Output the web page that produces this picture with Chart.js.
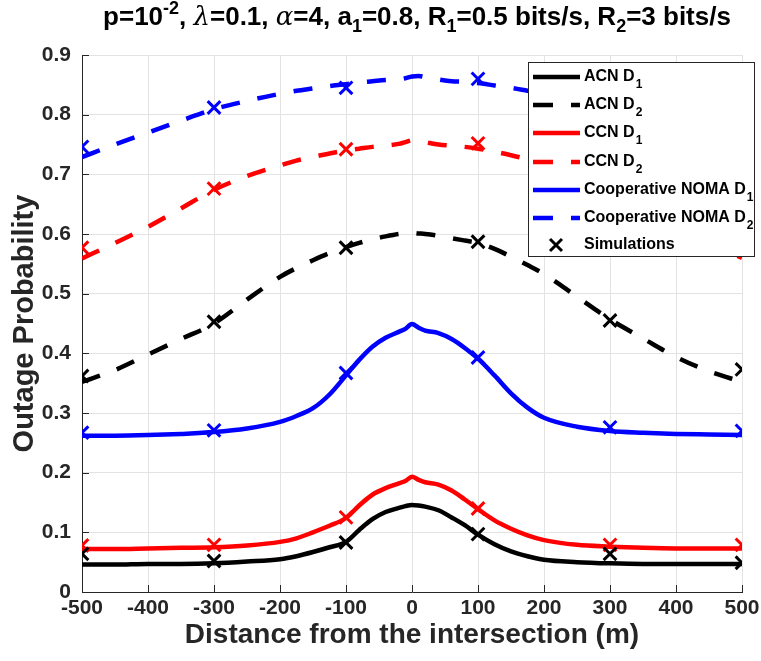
<!DOCTYPE html>
<html>
<head>
<meta charset="utf-8">
<script src="https://cdn.jsdelivr.net/npm/chart.js@4.4.1/dist/chart.umd.min.js"></script>
<style>
  html, body { margin: 0; padding: 0; background: #ffffff; }
  #wrap { width: 761px; height: 661px; position: relative; }
</style>
</head>
<body>
<div id="wrap"><canvas id="c" width="761" height="661"></canvas></div>
<script>
// ---------------- data ----------------
const distances = [-500, -450, -400, -350, -300, -250, -200, -175, -150, -125, -100, -80, -60, -40, -20, -10, 0, 10, 20, 40, 60, 80, 100, 125, 150, 175, 200, 250, 300, 350, 400, 450, 500];

const acnD1 = [0.046, 0.046, 0.047, 0.047, 0.048, 0.051, 0.055, 0.060, 0.067, 0.075, 0.084, 0.104, 0.122, 0.134, 0.141, 0.144, 0.146, 0.145, 0.143, 0.137, 0.125, 0.112, 0.096, 0.080, 0.068, 0.060, 0.054, 0.050, 0.048, 0.047, 0.047, 0.047, 0.047];
const ccnD1 = [0.072, 0.072, 0.073, 0.074, 0.075, 0.078, 0.084, 0.090, 0.100, 0.111, 0.124, 0.145, 0.163, 0.174, 0.182, 0.186, 0.193, 0.188, 0.184, 0.180, 0.170, 0.155, 0.139, 0.120, 0.106, 0.095, 0.087, 0.079, 0.076, 0.074, 0.073, 0.073, 0.073];
const nomaD1 = [0.262, 0.262, 0.263, 0.265, 0.268, 0.274, 0.285, 0.295, 0.308, 0.331, 0.363, 0.389, 0.411, 0.426, 0.436, 0.441, 0.449, 0.443, 0.438, 0.434, 0.424, 0.409, 0.391, 0.363, 0.333, 0.309, 0.292, 0.277, 0.270, 0.267, 0.265, 0.264, 0.263];

const acnD2 = [0.352, 0.372, 0.398, 0.424, 0.450, 0.490, 0.528, 0.543, 0.556, 0.568, 0.578, 0.585, 0.591, 0.596, 0.600, 0.601, 0.602, 0.601, 0.600, 0.597, 0.593, 0.589, 0.585, 0.575, 0.562, 0.548, 0.533, 0.495, 0.457, 0.425, 0.394, 0.370, 0.352];
const ccnD2 = [0.559, 0.585, 0.612, 0.643, 0.674, 0.697, 0.715, 0.723, 0.729, 0.735, 0.740, 0.743, 0.746, 0.748, 0.751, 0.754, 0.757, 0.756, 0.754, 0.750, 0.748, 0.746, 0.743, 0.738, 0.732, 0.725, 0.716, 0.697, 0.674, 0.643, 0.610, 0.585, 0.560];
const nomaD2 = [0.729, 0.750, 0.770, 0.790, 0.809, 0.823, 0.835, 0.840, 0.844, 0.848, 0.851, 0.854, 0.856, 0.858, 0.859, 0.861, 0.864, 0.865, 0.863, 0.859, 0.856, 0.855, 0.853, 0.849, 0.845, 0.840, 0.835, 0.823, 0.809, 0.790, 0.768, 0.749, 0.729];

const simDistances = [-500, -300, -100, 100, 300, 500];
const simAcnD1  = [0.064, 0.052, 0.083, 0.097, 0.064, 0.049];
const simCcnD1  = [0.078, 0.079, 0.125, 0.140, 0.079, 0.079];
const simNomaD1 = [0.267, 0.271, 0.367, 0.393, 0.276, 0.270];
const simAcnD2  = [0.362, 0.453, 0.577, 0.587, 0.455, 0.373];
const simCcnD2  = [0.577, 0.676, 0.742, 0.752, 0.675, 0.577];
const simNomaD2 = [0.746, 0.812, 0.845, 0.860, 0.810, 0.745];

const xTicks = [-500, -400, -300, -200, -100, 0, 100, 200, 300, 400, 500];
const yTicks = [0, 0.1, 0.2, 0.3, 0.4, 0.5, 0.6, 0.7, 0.8, 0.9];

const legendItems = [
  { main: 'ACN D', sub: '1', color: '#000000', dash: [] },
  { main: 'ACN D', sub: '2', color: '#000000', dash: [20, 18] },
  { main: 'CCN D', sub: '1', color: '#ff0000', dash: [] },
  { main: 'CCN D', sub: '2', color: '#ff0000', dash: [20, 18] },
  { main: 'Cooperative NOMA D', sub: '1', color: '#0000ff', dash: [] },
  { main: 'Cooperative NOMA D', sub: '2', color: '#0000ff', dash: [20, 18] },
  { main: 'Simulations', sub: '', color: '#000000', marker: true }
];

// ---------------- helpers ----------------
const FONT = '"Liberation Sans", Arial, Helvetica, sans-serif';
const pts = (xs, ys) => xs.map((x, i) => ({ x: x, y: ys[i] }));

function curve(ys, color, dashed) {
  return {
    data: pts(distances, ys), borderColor: color, backgroundColor: color,
    borderWidth: 4.5, borderDash: dashed ? [19, 18] : [], pointRadius: 0,
    cubicInterpolationMode: 'monotone', fill: false, order: 2
  };
}
function sim(ys, color) {
  return {
    data: pts(simDistances, ys), borderColor: color, backgroundColor: color,
    showLine: false, pointStyle: 'crossRot', pointRadius: 9, pointBorderWidth: 3,
    order: 1
  };
}

// title with sub/superscripts
const titleParts = [
  ['p=10', 'n'], ['-2', 'sup'], [', ', 'n'], ['\u03bb', 'g'], ['=0.1, ', 'n'], ['\u03b1', 'g'],
  ['=4, a', 'n'], ['1', 'sub'], ['=0.8, R', 'n'], ['1', 'sub'], ['=0.5 bits/s, R', 'n'], ['2', 'sub'], ['=3 bits/s', 'n']
];

function drawRich(ctx, parts, x, y, size, align) {
  const fonts = {
    n: 'bold ' + size + 'px ' + FONT,
    sup: 'bold ' + Math.round(size * 0.7) + 'px ' + FONT,
    sub: 'bold ' + Math.round(size * 0.7) + 'px ' + FONT,
    g: 'italic ' + size + 'px "DejaVu Serif", "Liberation Serif", serif'
  };
  let total = 0;
  parts.forEach(p => { ctx.font = fonts[p[1]]; total += ctx.measureText(p[0]).width; });
  let cx = align === 'center' ? x - total / 2 : x;
  ctx.textBaseline = 'alphabetic';
  ctx.textAlign = 'left';
  parts.forEach(p => {
    ctx.font = fonts[p[1]];
    let dy = 0;
    if (p[1] === 'sup') dy = -size * 0.42;
    if (p[1] === 'sub') dy = size * 0.25;
    ctx.fillText(p[0], cx, y + dy);
    cx += ctx.measureText(p[0]).width;
  });
}

const decorPlugin = {
  id: 'decor',
  beforeDatasetsDraw(chart) {
    const ctx = chart.ctx, a = chart.chartArea;
    const xs = chart.scales.x, ys = chart.scales.y;
    ctx.save();
    ctx.strokeStyle = '#262626';
    ctx.lineWidth = 1;
    ctx.beginPath();
    xTicks.forEach(v => {
      const px = Math.round(xs.getPixelForValue(v)) + 0.5;
      ctx.moveTo(px, a.bottom); ctx.lineTo(px, a.bottom - 7);
    });
    yTicks.forEach(v => {
      const py = Math.round(ys.getPixelForValue(v)) + 0.5;
      ctx.moveTo(a.left, py); ctx.lineTo(a.left + 7, py);
    });
    ctx.stroke();
    ctx.restore();
  },
  afterDraw(chart) {
    const ctx = chart.ctx;
    ctx.save();
    // title
    ctx.fillStyle = '#000000';
    drawRich(ctx, titleParts, 417, 25, 26, 'center');
    // legend
    const bx = 528, by = 62, bw = 226, bh = 194;
    ctx.fillStyle = '#ffffff';
    ctx.fillRect(bx, by, bw, bh);
    ctx.strokeStyle = '#262626';
    ctx.lineWidth = 1;
    ctx.strokeRect(bx + 0.5, by + 0.5, bw, bh);
    const rowY = [77, 105, 133, 162, 190, 218, 245];
    legendItems.forEach((it, i) => {
      const y = rowY[i];
      if (it.marker) {
        ctx.strokeStyle = it.color; ctx.lineWidth = 3;
        const cx = 556, r = 6;
        ctx.beginPath();
        ctx.moveTo(cx - r, y - r); ctx.lineTo(cx + r, y + r);
        ctx.moveTo(cx + r, y - r); ctx.lineTo(cx - r, y + r);
        ctx.stroke();
      } else {
        ctx.strokeStyle = it.color; ctx.lineWidth = 4.5;
        ctx.setLineDash(it.dash);
        ctx.beginPath(); ctx.moveTo(533, y); ctx.lineTo(580, y); ctx.stroke();
        ctx.setLineDash([]);
      }
      ctx.fillStyle = '#000000';
      ctx.textBaseline = 'middle';
      ctx.textAlign = 'left';
      ctx.font = 'bold 16px ' + FONT;
      ctx.fillText(it.main, 584, y);
      const w = ctx.measureText(it.main).width;
      if (it.sub) {
        ctx.font = 'bold 12px ' + FONT;
        ctx.fillText(it.sub, 584 + w + 1, y + 8);
      }
    });
    ctx.restore();
  }
};

new Chart(document.getElementById('c'), {
  type: 'line',
  data: {
    datasets: [
      curve(acnD1, '#000000', false),
      curve(acnD2, '#000000', true),
      curve(ccnD1, '#ff0000', false),
      curve(ccnD2, '#ff0000', true),
      curve(nomaD1, '#0000ff', false),
      curve(nomaD2, '#0000ff', true),
      sim(simAcnD1, '#000000'),
      sim(simAcnD2, '#000000'),
      sim(simCcnD1, '#ff0000'),
      sim(simCcnD2, '#ff0000'),
      sim(simNomaD1, '#0000ff'),
      sim(simNomaD2, '#0000ff')
    ]
  },
  options: {
    responsive: false,
    animation: false,
    devicePixelRatio: 1,
    layout: { padding: { top: 55, right: 19, bottom: 0, left: 0 } },
    plugins: { legend: { display: false }, tooltip: { enabled: false }, title: { display: false } },
    scales: {
      x: {
        type: 'linear', min: -500, max: 500,
        afterBuildTicks: s => { s.ticks = xTicks.map(v => ({ value: v })); },
        afterFit: s => { s.height = 69; s.paddingLeft = 0; s.paddingRight = 0; },
        grid: { color: '#e3e3e3', lineWidth: 1, drawTicks: false },
        border: { color: '#262626', width: 1 },
        ticks: { color: '#262626', padding: 4, maxRotation: 0, autoSkip: false, font: { family: FONT, size: 21, weight: 'bold' } },
        title: { display: true, text: 'Distance from the intersection (m)', color: '#262626', padding: { top: 0, bottom: 9 }, font: { family: FONT, size: 28, weight: 'bold' } }
      },
      y: {
        type: 'linear', min: 0, max: 0.9,
        afterBuildTicks: s => { s.ticks = yTicks.map(v => ({ value: v })); },
        afterFit: s => { s.width = 82; s.paddingTop = 0; s.paddingBottom = 0; },
        grid: { color: '#e3e3e3', lineWidth: 1, drawTicks: false },
        border: { color: '#262626', width: 1 },
        ticks: { color: '#262626', padding: 11, autoSkip: false, font: { family: FONT, size: 21, weight: 'bold' },
                 callback: v => String(Math.round(v * 10) / 10) },
        title: { display: true, text: 'Outage Probability', color: '#262626', padding: { top: 8, bottom: 0 }, font: { family: FONT, size: 29, weight: 'bold' } }
      }
    }
  },
  plugins: [decorPlugin]
});
</script>
</body>
</html>
